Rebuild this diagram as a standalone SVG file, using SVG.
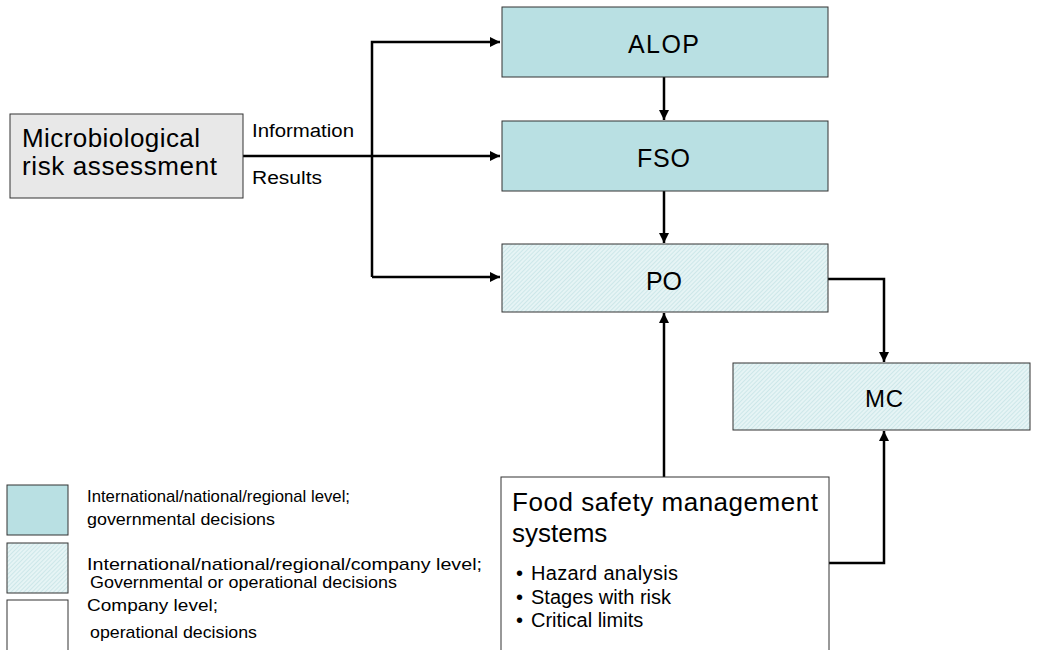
<svg xmlns="http://www.w3.org/2000/svg" width="1038" height="650" viewBox="0 0 1038 650">
<defs>
<pattern id="hatch" width="3" height="3" patternUnits="userSpaceOnUse" patternTransform="rotate(45)">
<rect width="3" height="3" fill="#e6f4f5"/>
<line x1="0" y1="0" x2="0" y2="3" stroke="#b4dadd" stroke-width="1"/>
</pattern>
<marker id="arr" viewBox="0 0 10 10" refX="10" refY="5" markerWidth="10" markerHeight="10" markerUnits="userSpaceOnUse" orient="auto">
<path d="M0,0 L10,5 L0,10 z" fill="#000"/>
</marker>
</defs>
<style>
.box{stroke:#333;stroke-width:1}
.gov{fill:#b9e0e3}
.mix{fill:url(#hatch)}
.co{fill:#fff}
.t{font-family:"Liberation Sans",Arial,sans-serif;fill:#000}
.c{stroke:#000;stroke-width:2.5;fill:none}
.lg{font-size:17px}
</style>
<rect width="1038" height="650" fill="#fff"/>
<g id="connectors">
<path class="c" d="M243,156 L500,156" marker-end="url(#arr)"/>
<path class="c" d="M372,277 L372,42 L500,42" marker-end="url(#arr)"/>
<path class="c" d="M372,277 L500,277" marker-end="url(#arr)"/>
<path class="c" d="M664,77 L664,120" marker-end="url(#arr)"/>
<path class="c" d="M664,191 L664,243" marker-end="url(#arr)"/>
<path class="c" d="M828,279 L884,279 L884,362" marker-end="url(#arr)"/>
<path class="c" d="M664,477 L664,313" marker-end="url(#arr)"/>
<path class="c" d="M829,563 L884,563 L884,431" marker-end="url(#arr)"/>
<text class="t" x="252" y="137" font-size="18" textLength="102" lengthAdjust="spacingAndGlyphs">Information</text>
<text class="t" x="252" y="184" font-size="18" textLength="70" lengthAdjust="spacingAndGlyphs">Results</text>
</g>
<g id="mra">
<rect class="box" x="10" y="114" width="233" height="84" fill="#e8e8e8"/>
<text class="t" x="22" y="147" font-size="26" textLength="178">Microbiological</text>
<text class="t" x="22" y="175" font-size="26" textLength="195">risk assessment</text>
</g>
<g id="alop">
<rect class="box gov" x="502" y="7" width="326" height="70"/>
<text class="t" x="628" y="53" font-size="25" textLength="71">ALOP</text>
</g>
<g id="fso">
<rect class="box gov" x="502" y="121" width="326" height="70"/>
<text class="t" x="637" y="167" font-size="25" textLength="53">FSO</text>
</g>
<g id="po">
<rect class="box mix" x="502" y="244" width="326" height="68"/>
<text class="t" x="646" y="290" font-size="25" textLength="36">PO</text>
</g>
<g id="mc">
<rect class="box mix" x="733" y="363" width="297" height="67"/>
<text class="t" x="865" y="407" font-size="24" textLength="38">MC</text>
</g>
<g id="fsms">
<rect class="box co" x="501" y="477" width="328" height="190"/>
<text class="t" x="512" y="511" font-size="26" textLength="306">Food safety management</text>
<text class="t" x="512" y="542" font-size="26">systems</text>
<text class="t" x="516" y="580" font-size="20">•</text>
<text class="t" x="531" y="580" font-size="20" textLength="147">Hazard analysis</text>
<text class="t" x="516" y="604" font-size="20">•</text>
<text class="t" x="531" y="604" font-size="20">Stages with risk</text>
<text class="t" x="516" y="627" font-size="20">•</text>
<text class="t" x="531" y="627" font-size="20">Critical limits</text>
</g>
<g id="legend">
<rect class="box gov" x="7" y="485" width="61" height="50"/>
<rect class="box mix" x="7" y="543" width="61" height="50"/>
<rect class="box co" x="7" y="600" width="61" height="60"/>
<text class="t lg" x="87" y="502" textLength="263" lengthAdjust="spacingAndGlyphs">International/national/regional level;</text>
<text class="t lg" x="87" y="525" textLength="188" lengthAdjust="spacingAndGlyphs">governmental decisions</text>
<text class="t lg" x="87" y="570" textLength="395" lengthAdjust="spacingAndGlyphs">International/national/regional/company level;</text>
<text class="t lg" x="90" y="588" textLength="307" lengthAdjust="spacingAndGlyphs">Governmental or operational decisions</text>
<text class="t lg" x="87" y="611" textLength="131" lengthAdjust="spacingAndGlyphs">Company level;</text>
<text class="t lg" x="90" y="638" textLength="167" lengthAdjust="spacingAndGlyphs">operational decisions</text>
</g>
</svg>
